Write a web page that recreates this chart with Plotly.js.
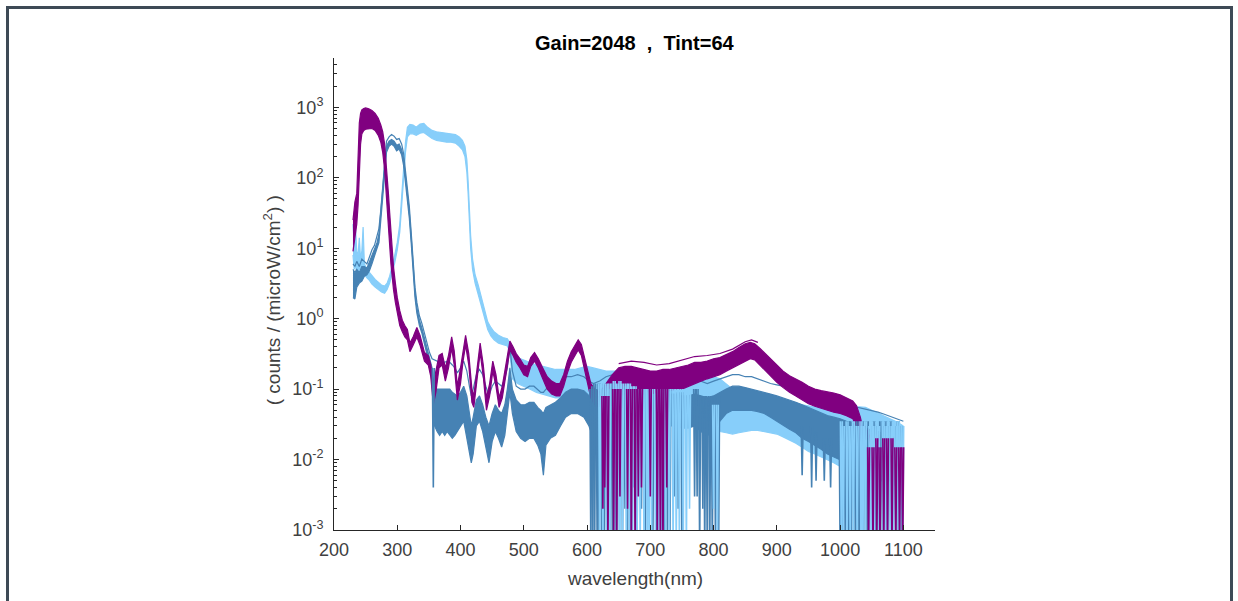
<!DOCTYPE html>
<html><head><meta charset="utf-8">
<script src="https://cdn.plot.ly/plotly-3.0.1.min.js"></script>
<style>
html,body{margin:0;padding:0;background:#fff;overflow:hidden}
#chart{width:1238px;height:601px}
#frame{position:absolute;left:6px;top:6px;width:1227px;height:700px;border:3px solid #3e4a56;box-sizing:border-box;pointer-events:none}
</style></head><body>
<div id="chart"></div><div id="frame"></div>
<script>
// ---------- data ----------
const xTicks = [200,300,400,500,600,700,800,900,1000,1100];
const yTickVals = [0.001,0.01,0.1,1,10,100,1000];
const yTickText = ['10<sup>-3</sup>','10<sup>-2</sup>','10<sup>-1</sup>','10<sup>0</sup>','10<sup>1</sup>','10<sup>2</sup>','10<sup>3</sup>'];

// purple (violet source)
const purpleWl = [230,233,236,238,240,242,244,247,250,255,260,265,270,274,277,280,282,284,286,288,290,292,294,297,300,304,308,312,316,320,325,331,336,343,349,353,357,361,366,371,376,381,386,390,395,400,404,408,413,418,421,426,431,436,441,446,451,456,461,466,471,475,478,483,488,494,500,506,511,517,523,530,537,544,551,557,563,569,575,581,586,591,596,601,606,612,620,630,640,650,660,670,680,690,700,710,720,730,740,750,760,770,780,790,800,810,820,830,840,850,858,865,873,880,890,900,910,920,930,940,950,960,970,980,990,1000,1010,1020,1026,1032,1037,1042,1048];
const purpleHi = [25,45,60,250,600,820,920,960,980,950,900,820,700,560,450,300,190,110,60,32,17,9,5.5,3.2,2,1.3,0.95,0.8,0.7,0.45,0.55,0.75,0.58,0.33,0.3,0.22,0.12,0.18,0.3,0.32,0.2,0.3,0.55,0.35,0.11,0.2,0.35,0.58,0.32,0.1,0.08,0.2,0.45,0.22,0.075,0.12,0.25,0.16,0.075,0.11,0.2,0.34,0.48,0.4,0.32,0.27,0.22,0.21,0.28,0.33,0.27,0.2,0.15,0.13,0.12,0.12,0.16,0.25,0.34,0.42,0.5,0.43,0.28,0.17,0.12,0.1,0.09,0.12,0.16,0.2,0.21,0.21,0.2,0.19,0.18,0.18,0.19,0.19,0.2,0.21,0.22,0.24,0.24,0.25,0.27,0.28,0.31,0.34,0.39,0.44,0.46,0.44,0.38,0.33,0.27,0.22,0.18,0.155,0.14,0.125,0.11,0.1,0.095,0.092,0.088,0.083,0.075,0.068,0.058,0.04,0.025,0.016,0.012];
const purpleLo = [9,15,22,40,120,300,420,470,490,500,500,470,400,320,230,130,75,40,20,11,6,3.8,2.6,1.7,1.2,0.8,0.65,0.55,0.5,0.34,0.42,0.55,0.42,0.25,0.22,0.15,0.06,0.09,0.2,0.22,0.13,0.2,0.38,0.22,0.07,0.12,0.25,0.42,0.22,0.065,0.055,0.13,0.33,0.15,0.05,0.08,0.18,0.11,0.055,0.075,0.14,0.24,0.36,0.3,0.24,0.2,0.16,0.15,0.21,0.25,0.2,0.14,0.1,0.085,0.08,0.08,0.11,0.17,0.24,0.3,0.36,0.3,0.19,0.11,0.075,0.06,0.055,0.06,0.07,0.08,0.085,0.09,0.09,0.085,0.085,0.09,0.09,0.095,0.1,0.1,0.11,0.12,0.13,0.14,0.15,0.16,0.18,0.2,0.22,0.25,0.27,0.26,0.22,0.19,0.15,0.125,0.105,0.09,0.08,0.07,0.062,0.057,0.053,0.05,0.047,0.045,0.042,0.038,0.03,0.018,0.008,0.004,0.002];
const purpleOutWl = [650,670,690,710,730,750,770,790,810,830,850,860,870];
const purpleOutVal = [0.23,0.25,0.24,0.22,0.23,0.26,0.29,0.3,0.32,0.37,0.47,0.5,0.46];
const purpleTailWl = [1040,1046,1052,1058,1064,1070,1076,1082,1088,1094,1100];
const purpleTailHi = [0.03,0.022,0.02,0.024,0.018,0.021,0.019,0.022,0.017,0.016,0.015];
const purpleTailLo = [0.012,0.008,0.006,0.007,0.005,0.006,0.005,0.006,0.005,0.004,0.004];

// steel blue (UV-B source)
const steelWl = [230,233,236,240,244,248,252,256,260,264,268,271,274,277,280,283,287,291,295,299,303,307,310,313,316,319,322,325,328,331,335,339,343,347,351,355,359,363,367,371,375,379,383,387,391,395,400,405,410,414,417,420,425,430,435,440,445,450,455,460,465,470,474,478,482,488,495,502,509,516,522,527,531,535,542,550,558,566,575,585,595,603,610,620,630,640,650,660,670,680,690,700,710,720,730,740,750,760,770,780,790,800,810,820,830,840,850,860,870,880,890,900,910,920,930,940,950,960,970,980,990,1000,1010,1020,1030,1040,1050,1060,1070,1080,1090,1100];
const steelHi = [6,5.5,6.5,5.5,7,6.5,6,7.5,9.5,11,15,19,35,80,180,330,380,410,390,350,360,300,220,130,75,40,17,6,2.8,1.7,1.1,0.85,0.6,0.45,0.33,0.27,0.26,0.25,0.24,0.25,0.24,0.25,0.24,0.22,0.2,0.17,0.2,0.25,0.18,0.11,0.08,0.1,0.16,0.19,0.16,0.11,0.08,0.11,0.13,0.12,0.11,0.14,0.2,0.4,0.18,0.11,0.1,0.1,0.11,0.11,0.1,0.09,0.09,0.1,0.11,0.11,0.12,0.15,0.15,0.16,0.15,0.13,0.12,0.13,0.15,0.16,0.17,0.17,0.16,0.16,0.16,0.15,0.15,0.15,0.14,0.14,0.13,0.13,0.14,0.13,0.12,0.13,0.14,0.15,0.16,0.16,0.15,0.15,0.14,0.13,0.12,0.115,0.11,0.1,0.095,0.09,0.085,0.08,0.075,0.07,0.066,0.063,0.06,0.058,0.055,0.052,0.05,0.047,0.044,0.041,0.038,0.035];
const steelMid = [5,4.5,5,4.5,5.5,5.5,5.2,6.5,8,9.5,12,16,30,68,150,280,330,350,330,290,300,250,185,110,62,33,14.5,5,2.4,1.45,0.95,0.73,0.52,0.38,0.27,0.2,0.1,0.1,0.1,0.1,0.1,0.1,0.1,0.09,0.085,0.08,0.09,0.11,0.08,0.045,0.03,0.04,0.07,0.08,0.06,0.04,0.03,0.045,0.06,0.05,0.045,0.06,0.1,0.2,0.1,0.07,0.06,0.06,0.065,0.065,0.055,0.05,0.045,0.055,0.06,0.065,0.075,0.09,0.1,0.1,0.095,0.08,0.07,0.08,0.09,0.1,0.1,0.1,0.1,0.1,0.1,0.095,0.09,0.09,0.085,0.085,0.08,0.08,0.085,0.08,0.075,0.08,0.09,0.1,0.11,0.11,0.105,0.1,0.095,0.09,0.085,0.08,0.075,0.07,0.065,0.06,0.055,0.05,0.045,0.042,0.04,0.038,0.035,0.033,0.03,0.028,0.026,0.025,0.023,0.021,0.02,0.018];
const steelLo = [2,1.9,2.8,3.2,3.4,4,4.2,4.8,6,7.5,10,12,24,55,120,230,280,300,280,240,255,210,150,90,50,27,12,4.2,2,1.2,0.8,0.62,0.45,0.32,0.22,0.12,0.03,0.025,0.022,0.025,0.022,0.025,0.022,0.02,0.022,0.025,0.03,0.035,0.02,0.012,0.009,0.012,0.03,0.035,0.025,0.015,0.009,0.018,0.025,0.02,0.015,0.022,0.045,0.09,0.045,0.025,0.02,0.018,0.02,0.02,0.016,0.012,0.006,0.016,0.02,0.022,0.03,0.04,0.045,0.045,0.04,0.03,0.02,0.02,0.025,0.03,0.035,0.035,0.035,0.035,0.035,0.035,0.035,0.03,0.03,0.03,0.028,0.028,0.03,0.025,0.022,0.025,0.035,0.045,0.05,0.05,0.05,0.05,0.048,0.045,0.04,0.035,0.03,0.027,0.024,0.02,0.018,0.016,0.014,0.012,0.011,0.01,0.009,0.008,0.007,0.006,0.006,0.005,0.005,0.005,0.004,0.004];

// light sky blue (UV-A source)
const lightWl = [230,232,234,236,238,240,242,244,246,248,252,256,260,265,270,275,280,284,288,292,296,300,304,307,310,313,316,320,325,330,336,342,348,355,362,370,378,385,392,398,403,407,410,412,414,416,419,423,428,433,438,443,448,453,460,467,474,478,482,490,500,510,520,530,540,550,560,570,580,590,600,610,620,630,640,650,660,670,680,690,700,710,720,730,740,750,760,770,780,790,800,810,820,830,840,850,860,870,880,890,900,910,920,930,940,950,960,970,980,990,1000,1010,1020,1030,1040,1050,1060,1070,1080,1090,1100];
const lightHi = [22,12,20,9,8,14,7,9,20,6,5,4.5,4,3.6,3.3,3,2.9,3.2,4,5.5,8,12,22,55,130,320,520,570,560,520,580,590,520,470,450,440,430,420,410,380,340,280,180,90,35,15,7,4.2,3,2,1.3,0.9,0.75,0.65,0.58,0.54,0.52,0.45,0.3,0.28,0.26,0.24,0.22,0.21,0.2,0.19,0.19,0.19,0.19,0.2,0.21,0.2,0.19,0.18,0.18,0.18,0.17,0.16,0.16,0.15,0.15,0.15,0.14,0.14,0.13,0.13,0.14,0.15,0.15,0.15,0.15,0.14,0.12,0.1,0.085,0.075,0.07,0.07,0.07,0.07,0.07,0.068,0.066,0.064,0.06,0.058,0.056,0.054,0.052,0.05,0.05,0.052,0.054,0.056,0.055,0.05,0.046,0.042,0.038,0.034,0.03];
const lightLo = [8,5,6,4,4.5,5.5,4.2,4.8,4.5,4.2,3.8,3.5,3.1,2.8,2.6,2.4,2.3,2.6,3.2,4.3,6.2,9.5,17,40,95,230,380,420,420,400,430,440,400,360,340,330,320,320,310,280,250,200,120,60,24,10,5,3.2,2.2,1.5,1,0.7,0.57,0.5,0.45,0.43,0.41,0.34,0.14,0.12,0.11,0.1,0.09,0.085,0.08,0.075,0.075,0.075,0.075,0.08,0.08,0.075,0.07,0.065,0.06,0.06,0.055,0.05,0.05,0.05,0.05,0.045,0.045,0.045,0.04,0.04,0.04,0.04,0.035,0.03,0.028,0.025,0.024,0.023,0.024,0.025,0.026,0.026,0.025,0.024,0.023,0.021,0.019,0.017,0.015,0.013,0.012,0.011,0.01,0.009,0.008,0.008,0.007,0.007,0.006,0.006,0.006,0.005,0.005,0.005,0.004];

// deep dropouts (wavelength, level before the dip, lowest value)
const steelDropWl = [357,606,609,612,616,619,623,627,631,636,640,644,648,652,656,660,664,668,674,679,686,692,698,704,710,716,722,727,731,738,744,750,770,774,778,783,786,790,794,798,803,808,940,955,962,975,985,1000,1002,1004,1008,1013,1015,1018,1024,1027,1030,1036,1040,1043,1050,1054,1057,1064,1068,1072,1076,1080,1088,1092,1096];
const steelDropTop = [0.2,0.1,0.11,0.12,0.1,0.12,0.1,0.12,0.11,0.1,0.12,0.1,0.11,0.1,0.1,0.11,0.1,0.1,0.1,0.1,0.1,0.1,0.09,0.08,0.08,0.09,0.1,0.1,0.1,0.08,0.09,0.09,0.1,0.1,0.08,0.08,0.08,0.08,0.08,0.08,0.08,0.08,0.03,0.03,0.025,0.02,0.02,0.035,0.03,0.035,0.03,0.035,0.03,0.035,0.03,0.035,0.03,0.035,0.03,0.035,0.03,0.035,0.03,0.035,0.03,0.035,0.03,0.035,0.03,0.035,0.03];
const steelDropMin = [0.004,0.0005,0.0005,0.0005,0.0005,0.0005,0.0005,0.0005,0.0005,0.0005,0.0005,0.0005,0.0005,0.003,0.0005,0.002,0.0005,0.0005,0.004,0.0005,0.002,0.0005,0.003,0.0005,0.0005,0.0005,0.0005,0.0005,0.0005,0.003,0.002,0.0005,0.003,0.003,0.0005,0.002,0.0005,0.0005,0.0005,0.0005,0.0005,0.0005,0.006,0.004,0.005,0.005,0.004,0.0005,0.0005,0.0005,0.0005,0.0005,0.0005,0.0005,0.0005,0.0005,0.0005,0.0005,0.0005,0.0005,0.0005,0.0005,0.0005,0.0005,0.0005,0.0005,0.0005,0.0005,0.0005,0.0005,0.0005];
const lightDropWl = [620,625,631,636,643,648,652,656,662,667,672,676,679,684,690,695,698,702,708,713,718,724,730,736,741,746,752,757,762,800,806,1002,1005,1011,1016,1021,1027,1033,1036,1040,1047,1050,1054,1058,1061,1068,1072,1076,1080,1084,1088,1092,1095,1099];
const lightDropTop = [0.12,0.13,0.12,0.12,0.13,0.12,0.13,0.12,0.12,0.12,0.11,0.11,0.1,0.1,0.1,0.1,0.1,0.1,0.1,0.1,0.1,0.1,0.1,0.1,0.1,0.1,0.1,0.1,0.1,0.06,0.06,0.035,0.03,0.035,0.03,0.035,0.03,0.035,0.03,0.035,0.03,0.035,0.03,0.035,0.03,0.035,0.03,0.035,0.03,0.035,0.03,0.035,0.03,0.03];
const lightDropMin = [0.0005,0.0005,0.0005,0.0005,0.0005,0.0005,0.0005,0.0005,0.0005,0.0005,0.0005,0.0005,0.0005,0.0005,0.0005,0.0005,0.0005,0.0005,0.0005,0.0005,0.0005,0.0005,0.0005,0.0005,0.0005,0.0005,0.0005,0.0005,0.002,0.002,0.0005,0.0005,0.0005,0.0005,0.0005,0.0005,0.0005,0.0005,0.0005,0.0005,0.0005,0.0005,0.0005,0.0005,0.0005,0.0005,0.0005,0.0005,0.0005,0.0005,0.0005,0.0005,0.0005,0.0005];
const purpleDropWl = [625,628,633,642,647,652,664,670,676,681,686,700,711,716,720,726,1045,1052,1058,1063,1069,1075,1082,1088,1094,1099];
const purpleDropTop = [0.08,0.08,0.08,0.1,0.1,0.1,0.1,0.1,0.1,0.1,0.1,0.1,0.1,0.1,0.1,0.1,0.015,0.015,0.02,0.015,0.02,0.02,0.02,0.015,0.015,0.015];
const purpleDropMin = [0.002,0.004,0.0005,0.0005,0.0005,0.003,0.002,0.0005,0.0005,0.003,0.004,0.003,0.0005,0.0005,0.0005,0.004,0.0005,0.0005,0.0005,0.0005,0.0005,0.0005,0.0005,0.0005,0.0005,0.0005];

// ---------- styles ----------
const PURPLE = '#800080', STEEL = '#4682B4', LIGHT = '#87CEFA';
const AXC = '#262626', TXT = '#404040';
const FONT = 'Liberation Sans, Arial, Helvetica, sans-serif';

function line(x, y, color, w, extra) {
  return Object.assign({x: x, y: y, type: 'scatter', mode: 'lines', hoverinfo: 'skip',
    line: {color: color, width: w}}, extra || {});
}
function band(x, hi, lo, color, opacity) {
  return [
    line(x, lo, color, 1.2),
    line(x, hi, color, 1.2, {fill: 'tonexty', fillcolor: color, opacity: opacity})
  ];
}
function drops(wl, top, min, color) {
  const xs = [], ys = [];
  for (let i = 0; i < wl.length; i++) {
    xs.push(wl[i] - 1.5, wl[i], wl[i] + 1.5, null);
    ys.push(top[i], min[i], top[i], null);
  }
  return line(xs, ys, color, 1.6, {connectgaps: false});
}

const traces = [];
traces.push(...band(lightWl, lightHi, lightLo, LIGHT, 1));
traces.push(line(steelWl, steelHi, STEEL, 1.2));
traces.push(...band(steelWl, steelMid, steelLo, STEEL, 0.9));
traces.push(...band(purpleWl, purpleHi, purpleLo, PURPLE, 1));
traces.push(line(purpleOutWl, purpleOutVal, PURPLE, 1.2));
traces.push(...band(purpleTailWl, purpleTailHi, purpleTailLo, PURPLE, 0.8));
traces.push(drops(steelDropWl, steelDropTop, steelDropMin, STEEL));
traces.push(drops(lightDropWl, lightDropTop, lightDropMin, LIGHT));
traces.push(drops(purpleDropWl, purpleDropTop, purpleDropMin, PURPLE));

const layout = {
  width: 1238, height: 601,
  margin: {l: 334, r: 303, t: 58, b: 71, pad: 0},
  paper_bgcolor: '#ffffff', plot_bgcolor: '#ffffff',
  showlegend: false,
  font: {family: FONT, size: 18, color: TXT},
  xaxis: {
    range: [200, 1150], tickmode: 'array', tickvals: xTicks,
    ticks: 'inside', ticklen: 5, tickwidth: 1, tickcolor: AXC,
    showline: true, linecolor: AXC, linewidth: 1, mirror: false,
    showgrid: false, zeroline: false, ticklabelstandoff: 3,
    tickfont: {family: FONT, size: 18, color: TXT}
  },
  yaxis: {
    type: 'log', range: [-3, 3.7], tickmode: 'array', tickvals: yTickVals, ticktext: yTickText,
    ticks: 'inside', ticklen: 5, tickwidth: 1, tickcolor: AXC,
    minor: {ticks: 'inside', ticklen: 3, tickcolor: AXC, dtick: 'D1', showgrid: false},
    showline: true, linecolor: AXC, linewidth: 1, mirror: false,
    showgrid: false, zeroline: false, ticklabelstandoff: 6,
    tickfont: {family: FONT, size: 18, color: TXT}
  },
  annotations: [
    {text: '<b>Gain=2048\u00a0\u00a0,\u00a0\u00a0Tint=64</b>', xref: 'paper', yref: 'paper',
     x: 0.5, y: 1.0318, xanchor: 'center', yanchor: 'middle', showarrow: false,
     font: {family: FONT, size: 20, color: '#000000'}},
    {text: 'wavelength(nm)', xref: 'paper', yref: 'paper', x: 0.5, y: -0.1017,
     xanchor: 'center', yanchor: 'middle', showarrow: false,
     font: {family: FONT, size: 19, color: TXT}},
    {text: '( counts / (microW/cm<sup>2</sup>) )', xref: 'paper', yref: 'paper',
     x: -0.103, y: 0.487, xanchor: 'center', yanchor: 'middle', textangle: -90, showarrow: false,
     font: {family: FONT, size: 19, color: TXT}}
  ]
};

Plotly.newPlot('chart', traces, layout, {staticPlot: true, displayModeBar: false});
</script></body></html>
